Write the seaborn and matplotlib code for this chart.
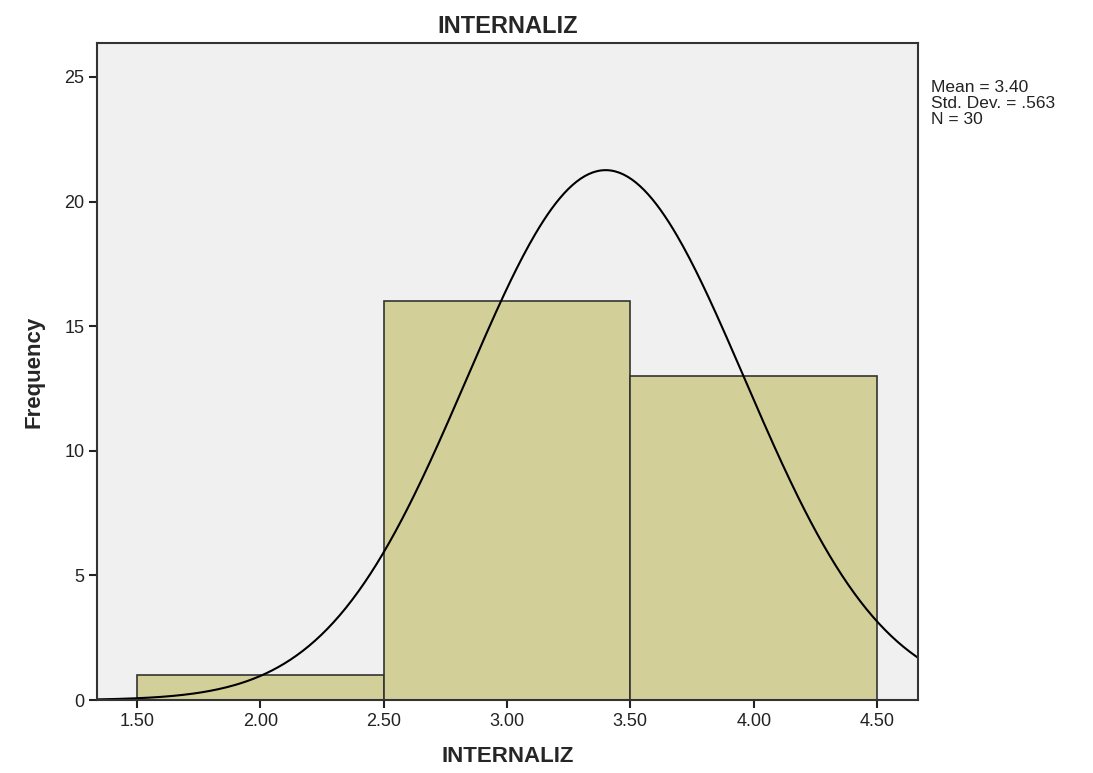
import numpy as np
import pandas as pd
import seaborn as sns
import matplotlib
matplotlib.use("Agg")
import matplotlib.pyplot as plt

# Histograma de INTERNALIZ
bin_edges = [1.5, 2.5, 3.5, 4.5]
bin_centers = [2.0, 3.0, 4.0]
frecuencias = [1, 16, 13]
media = 3.40
desv = 0.563
n_total = 30

sns.set_style("white")
plt.rcParams['font.family'] = ['Liberation Sans', 'DejaVu Sans']

fig = plt.figure(figsize=(10.93, 7.73), dpi=100)
ax = fig.add_axes([0.0887, 0.0944, 0.7512, 0.85])
ax.set_facecolor('#f0f0f0')

df = pd.DataFrame({'INTERNALIZ': bin_centers, 'freq': frecuencias})
sns.histplot(data=df, x='INTERNALIZ', weights='freq', bins=bin_edges,
             color='#d3cf98', edgecolor='#333333', linewidth=1.2, alpha=1, ax=ax)

# Curva normal escalada a frecuencias (ancho de clase = 1)
x_min, x_max = 1.338, 4.666
xs = np.linspace(x_min, x_max, 400)
ys = n_total * 1.0 / (desv * np.sqrt(2 * np.pi)) * np.exp(-0.5 * ((xs - media) / desv) ** 2)
sns.lineplot(x=xs, y=ys, color='black', linewidth=1.5, ax=ax)

ax.set_xlim(x_min, x_max)
ax.set_ylim(0, 26.36)
ax.set_xticks([1.5, 2.0, 2.5, 3.0, 3.5, 4.0, 4.5])
ax.set_xticklabels(['1.50', '2.00', '2.50', '3.00', '3.50', '4.00', '4.50'])
ax.set_yticks([0, 5, 10, 15, 20, 25])
ax.tick_params(axis='both', direction='out', length=6, width=1.5, color='#222222',
               labelsize=13, labelcolor='#222222', pad=3, bottom=True, left=True)
for s in ax.spines.values():
    s.set_visible(True)
    s.set_color('#333333')
    s.set_linewidth(1.5)

ax.set_title('INTERNALIZ', fontsize=17, fontweight='bold', pad=7)
ax.set_xlabel('INTERNALIZ', fontsize=16, fontweight='bold', labelpad=12)
ax.set_ylabel('Frequency', fontsize=16, fontweight='bold', labelpad=14)

fig.text(0.852, 0.897, 'Mean = 3.40\nStd. Dev. = .563\nN = 30', fontsize=12.5,
         va='top', ha='left', linespacing=1.12, color='#222222')

fig.savefig('out.png', dpi=100)
